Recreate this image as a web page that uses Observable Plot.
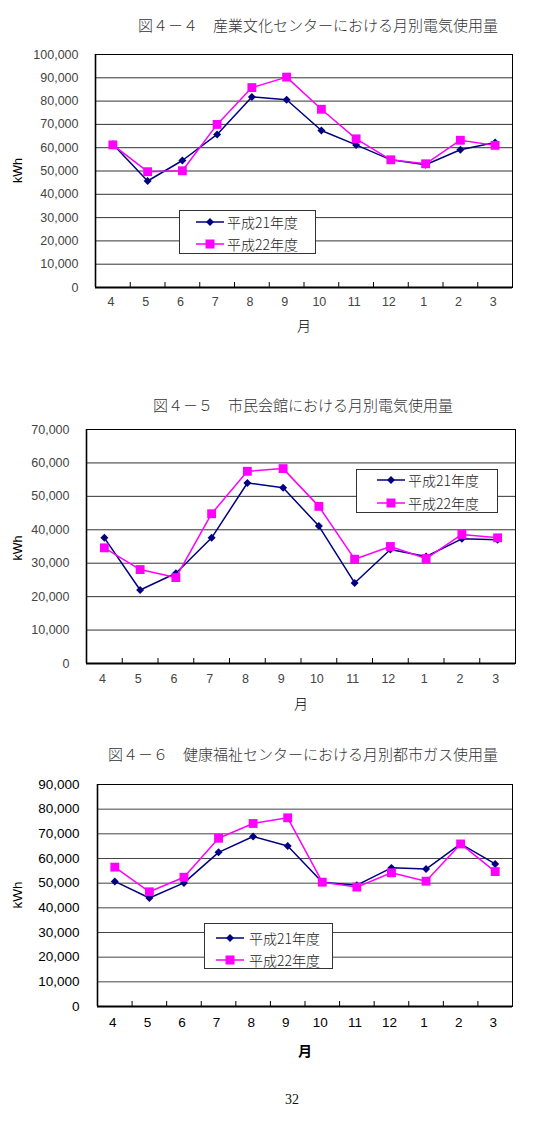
<!DOCTYPE html>
<html><head><meta charset="utf-8">
<script src="https://cdn.jsdelivr.net/npm/d3@7"></script>
<script src="https://cdn.jsdelivr.net/npm/@observablehq/plot@0.6"></script>
<style>
body{margin:0;background:#fff;}
#page{position:relative;width:544px;height:1125px;overflow:hidden;background:#fff;}
.title{position:absolute;font-family:"Noto Sans CJK JP";font-weight:300;font-size:15px;color:#333;white-space:nowrap;line-height:16px;}
.chart{position:absolute;left:0;}
.legend{position:absolute;background:#fff;border:1px solid #333;box-sizing:border-box;font-family:"Noto Sans CJK JP";font-weight:300;font-size:14px;color:#222;}
.legend .row{position:absolute;left:0;height:20px;display:flex;align-items:center;white-space:nowrap;}
.legend svg{display:block;}
.pagenum{position:absolute;left:0;width:584px;top:1092px;text-align:center;font-family:"Liberation Serif";font-size:14px;color:#111;}
</style>
</head><body>
<div id="page"></div>
<script>
// ---- data ----
const months = ["4","5","6","7","8","9","10","11","12","1","2","3"];
const seriesNames = ["平成21年度","平成22年度"];

const title1 = "図４－４　産業文化センターにおける月別電気使用量";
const ticks1 = [0,10000,20000,30000,40000,50000,60000,70000,80000,90000,100000];
const c1_h21 = [61500,45700,54500,65700,81800,80600,67400,61200,54800,52700,59100,62200];
const c1_h22 = [61200,49700,50100,70000,85800,90300,76500,63800,54800,53100,63200,61000];

const title2 = "図４－５　市民会館における月別電気使用量";
const ticks2 = [0,10000,20000,30000,40000,50000,60000,70000];
const c2_h21 = [37600,22000,27000,37600,54000,52600,41100,24100,34100,32000,37300,37000];
const c2_h22 = [34600,28100,25700,44800,57500,58300,47000,31200,35000,31400,38600,37600];

const title3 = "図４－６　健康福祉センターにおける月別都市ガス使用量";
const ticks3 = [0,10000,20000,30000,40000,50000,60000,70000,80000,90000];
const c3_h21 = [50700,44000,50100,62500,68900,65100,50400,49200,56200,55700,65900,57800];
const c3_h22 = [56500,46500,52400,68200,74200,76500,50400,48400,54200,50800,65900,54700];

const yLabel = "kWh";
const xLabel = "月";
const pageNumber = "32";

const NAVY = "#000080", MAGENTA = "#FF00FF";
const page = document.getElementById("page");

function addTitle(text, left, top){
  const d = document.createElement("div");
  d.className = "title"; d.textContent = text;
  d.style.left = left + "px"; d.style.top = top + "px";
  page.appendChild(d);
}

function markerSvg(kind){
  const ns = "http://www.w3.org/2000/svg";
  const svg = document.createElementNS(ns, "svg");
  svg.setAttribute("width", 30); svg.setAttribute("height", 12);
  const line = document.createElementNS(ns, "line");
  line.setAttribute("x1", 1); line.setAttribute("x2", 29); line.setAttribute("y1", 6); line.setAttribute("y2", 6);
  line.setAttribute("stroke", kind === 0 ? NAVY : MAGENTA); line.setAttribute("stroke-width", 1.5);
  svg.appendChild(line);
  if (kind === 0) {
    const p = document.createElementNS(ns, "path");
    p.setAttribute("d", "M15,2L19,6L15,10L11,6Z"); p.setAttribute("fill", NAVY);
    svg.appendChild(p);
  } else {
    const r = document.createElementNS(ns, "rect");
    r.setAttribute("x", 10.5); r.setAttribute("y", 1.5); r.setAttribute("width", 9); r.setAttribute("height", 9);
    r.setAttribute("fill", MAGENTA);
    svg.appendChild(r);
  }
  return svg;
}

function addLegend(l){
  const d = document.createElement("div");
  d.className = "legend";
  Object.assign(d.style, {left: l.left+"px", top: l.top+"px", width: l.width+"px", height: l.height+"px"});
  seriesNames.forEach((name, k) => {
    const row = document.createElement("div");
    row.className = "row";
    row.style.top = (l.rows[k] - 10) + "px";
    row.style.left = l.lineX + "px";
    row.appendChild(markerSvg(k));
    const t = document.createElement("span");
    t.textContent = name; t.style.marginLeft = l.gap + "px";
    row.appendChild(t);
    d.appendChild(row);
  });
  page.appendChild(d);
}

function makeChart(cfg){
  const s1 = months.map((m,i) => ({i, m, v: cfg.a[i]}));
  const s2 = months.map((m,i) => ({i, m, v: cfg.b[i]}));
  const fmt = d3.format(",");
  const plot = Plot.plot({
    width: 544, height: cfg.height,
    marginTop: cfg.mt, marginBottom: cfg.mb, marginLeft: cfg.ml, marginRight: cfg.mr,
    x: {type: "linear", domain: [0, months.length], axis: null},
    y: {domain: [0, cfg.ticks[cfg.ticks.length-1]], axis: null},
    style: {fontFamily: "Liberation Sans, Arial, sans-serif", fontSize: cfg.fs + "px", color: cfg.tc, background: "transparent", overflow: "visible"},
    marks: [
      Plot.ruleY(cfg.ticks, {stroke: cfg.grid, strokeWidth: 1}),
      Plot.frame({stroke: "#000", strokeWidth: 1}),
      Plot.ruleY([0], {stroke: "#000", strokeWidth: 2}),
      Plot.ruleX([0], {stroke: "#000", strokeWidth: 1.6}),
      Plot.axisY(cfg.ticks, {tickSize: 0, tickPadding: cfg.ytp, tickFormat: d => fmt(d), label: null, fill: cfg.tc, fontSize: cfg.fs, fontWeight: cfg.fw}),
      Plot.axisX(months.map((m,i) => i + 0.5), {tickSize: 0, tickPadding: cfg.xtp, tickFormat: d => months[Math.floor(d)], label: null, fill: cfg.tc, fontSize: cfg.fs, fontWeight: cfg.fw, dx: -2}),
      Plot.axisX(d3.range(1, months.length), {tickSize: -5, tickFormat: () => "", label: null, stroke: "#000"}),
      Plot.line(s1, {x: d => d.i + 0.5, y: "v", stroke: NAVY, strokeWidth: 1.5}),
      Plot.dot(s1, {x: d => d.i + 0.5, y: "v", symbol: "diamond2", r: 3.6, fill: NAVY, stroke: null}),
      Plot.line(s2, {x: d => d.i + 0.5, y: "v", stroke: MAGENTA, strokeWidth: 1.5}),
      Plot.dot(s2, {x: d => d.i + 0.5, y: "v", symbol: "square", r: 5, fill: MAGENTA, stroke: null}),
      Plot.text([yLabel], {frameAnchor: "left", dx: 17 - cfg.ml, dy: cfg.kdy, rotate: -90, fontSize: cfg.fs, fill: "#000", fontWeight: cfg.fw}),
      Plot.text([xLabel], {frameAnchor: "bottom", dy: cfg.mdy, fontSize: 14, fill: "#000", fontFamily: "Noto Sans CJK JP", fontWeight: cfg.mw})
    ]
  });
  plot.classList.add("chart");
  plot.style.top = cfg.top + "px";
  page.appendChild(plot);
}

addTitle(title1, 138, 17);
makeChart({a: c1_h21, b: c1_h22, ticks: ticks1, top: 40, height: 310, mt: 14, mb: 63, ml: 95, mr: 32,
  fs: 12.5, tc: "#444", fw: "normal", mw: 300, grid: "#333", ytp: 17, xtp: 10, kdy: 12, mdy: 43});
addLegend({left: 179, top: 210, width: 137, height: 44, rows: [11, 33], lineX: 15, gap: 2});

addTitle(title2, 153, 397);
makeChart({a: c2_h21, b: c2_h22, ticks: ticks2, top: 415, height: 310, mt: 14, mb: 62, ml: 86, mr: 29,
  fs: 12.5, tc: "#444", fw: "normal", mw: 300, grid: "#333", ytp: 17, xtp: 11, kdy: 14, mdy: 45});
addLegend({left: 356, top: 469, width: 142, height: 44, rows: [10, 33], lineX: 19, gap: 2});

addTitle(title3, 108, 746);
makeChart({a: c3_h21, b: c3_h22, ticks: ticks3, top: 770, height: 300, mt: 14, mb: 64, ml: 97, mr: 32,
  fs: 13.5, tc: "#000", fw: "normal", mw: "bold", grid: "#444", ytp: 18, xtp: 11, kdy: 13, mdy: 49});
addLegend({left: 204, top: 923, width: 129, height: 46, rows: [14, 36], lineX: 10, gap: 4});

const pn = document.createElement("div");
pn.className = "pagenum"; pn.textContent = pageNumber;
page.appendChild(pn);
</script>
</body></html>
